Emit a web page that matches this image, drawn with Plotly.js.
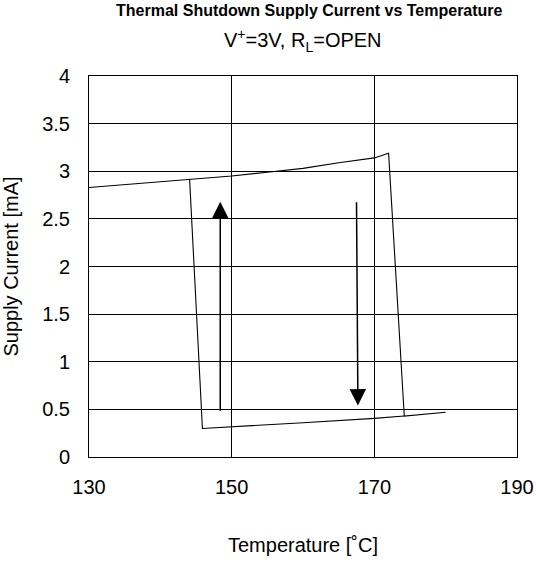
<!DOCTYPE html>
<html>
<head>
<meta charset="utf-8">
<script src="https://cdn.plot.ly/plotly-3.0.1.min.js"></script>
<style>html,body{margin:0;padding:0;background:#fff;}#chart{width:536px;height:575px;}</style>
</head>
<body>
<div id="chart"></div>
<script>
// Heating branch (upper line, then drop at shutdown, then lower line)
const heatTemp = [130, 144.1, 150, 155, 160, 165, 170, 172, 174.2, 180];
const heatCurr = [2.83, 2.92, 2.95, 2.99, 3.03, 3.09, 3.14, 3.19, 0.43, 0.47];
// Cooling branch (lower line back, then recovery jump)
const coolTemp = [174.2, 170, 160, 150, 145.9, 144.1];
const coolCurr = [0.43, 0.405, 0.36, 0.32, 0.30, 2.92];
// Direction arrows: tail -> tip
const upArrowTemp = [148.4, 148.4];
const upArrowCurr = [0.47, 2.68];
const downArrowTemp = [167.5, 167.7];
const downArrowCurr = [2.69, 0.54];

const xTicks = [130, 150, 170, 190];
const yTicks = [0, 0.5, 1, 1.5, 2, 2.5, 3, 3.5, 4];

const font = 'Arial, "Liberation Sans", sans-serif';

const data = [
  {x: heatTemp, y: heatCurr, type: 'scatter', mode: 'lines', line: {color: '#000', width: 1.1}, hoverinfo: 'skip'},
  {x: coolTemp, y: coolCurr, type: 'scatter', mode: 'lines', line: {color: '#000', width: 1.1}, hoverinfo: 'skip'}
];

function arrow(t, c) {
  return {x: t[1], y: c[1], ax: t[0], ay: c[0], xref: 'x', yref: 'y', axref: 'x', ayref: 'y',
    text: '', showarrow: true, arrowhead: 2, arrowsize: 2.2, arrowwidth: 1.5, arrowcolor: '#000', standoff: 0};
}

const layout = {
  width: 536, height: 575,
  margin: {l: 89, r: 19, t: 76, b: 118},
  paper_bgcolor: '#fff', plot_bgcolor: '#fff',
  showlegend: false,
  font: {family: font, color: '#000', size: 20},
  title: {text: 'Thermal Shutdown Supply Current vs Temperature', font: {family: font, size: 16, color: '#000', weight: 'bold'},
    x: 0.577, xanchor: 'center', xref: 'container', y: 0.9817, yanchor: 'middle', yref: 'container'},
  xaxis: {range: [130, 190], tickvals: xTicks, ticktext: xTicks.map(String), showgrid: true, gridcolor: '#000', gridwidth: 1,
    showline: true, linecolor: '#000', linewidth: 1, mirror: true, zeroline: false, ticks: '', ticklen: 0,
    ticklabelstandoff: 12,
    tickfont: {family: font, size: 20, color: '#000'},
    title: {text: 'Temperature [˚C]', font: {family: font, size: 20, color: '#000'}, standoff: 40}},
  yaxis: {range: [0, 4], tickvals: yTicks, ticktext: yTicks.map(String), showgrid: true, gridcolor: '#000', gridwidth: 1,
    showline: true, linecolor: '#000', linewidth: 1, mirror: true, zeroline: false, ticks: '', ticklen: 0,
    ticklabelstandoff: 14,
    tickfont: {family: font, size: 20, color: '#000'},
    title: {text: 'Supply Current [mA]', font: {family: font, size: 20, color: '#000'}, standoff: 22}},
  annotations: [
    {text: 'V<sup>+</sup>=3V, R<sub>L</sub>=OPEN', xref: 'paper', yref: 'paper', x: 0.5, y: 1.092, xanchor: 'center', yanchor: 'middle',
      showarrow: false, font: {family: font, size: 20, color: '#000'}},
    arrow(upArrowTemp, upArrowCurr),
    arrow(downArrowTemp, downArrowCurr)
  ]
};

Plotly.newPlot('chart', data, layout, {staticPlot: true, displayModeBar: false});
</script>
</body>
</html>
